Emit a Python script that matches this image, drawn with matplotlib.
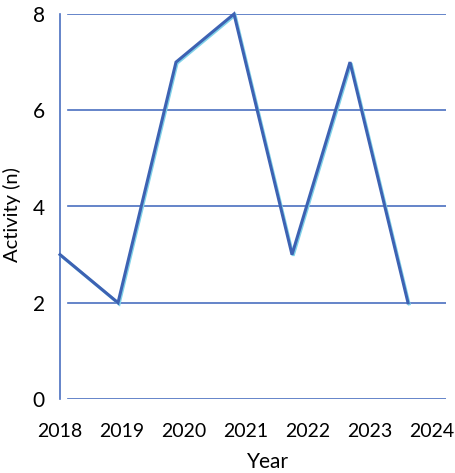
import numpy as np
import matplotlib
matplotlib.use("Agg")
import matplotlib.pyplot as plt
import matplotlib.patheffects as pe

# datos
years = ["2018", "2019", "2020", "2021", "2022", "2023", "2024"]
activity = [3, 2, 7, 8, 3, 7, 2]
yticks = [0, 2, 4, 6, 8]

plt.rcParams["font.family"] = ["Lato", "DejaVu Sans"]

W, H = 455, 473
fig = plt.figure(figsize=(W / 100, H / 100), dpi=100)
# ejes en pixeles: izquierda 60, derecha 446, abajo 399, arriba 14
ax = fig.add_axes([60 / W, 1 - 399 / H, 386 / W, 385 / H])

paso = 58.0  # separación de los puntos en pixeles
x = np.arange(len(activity))
ax.plot(x, activity, color="#3d62b3", lw=2.2, solid_joinstyle="miter", clip_on=False, zorder=3,
        path_effects=[pe.SimpleLineShadow(offset=(0.8, -0.8), shadow_color="#80d2e8", alpha=1.0, rho=1.0),
                      pe.Normal()])

ax.set_xlim(0, 386 / paso)
ax.set_ylim(0, 8)

for v in yticks:
    ax.axhline(v, xmin=8 / 386, xmax=1, color="#4a6fc0", lw=1.2, zorder=1)

# las etiquetas del eje x van un poco más separadas que los puntos
ax.set_xticks(x * 62 / paso)
ax.set_xticklabels(years)
ax.set_yticks(yticks)
ax.tick_params(axis="x", length=0, labelsize=14, colors="black", pad=17)
ax.tick_params(axis="y", length=0, labelsize=15, colors="black", pad=11)

for s in ["top", "right", "bottom"]:
    ax.spines[s].set_visible(False)
ax.spines["left"].set_color("#4a6fc0")
ax.spines["left"].set_linewidth(1.2)

ax.set_xlabel("Year", fontsize=15, labelpad=9)
ax.xaxis.label.set_x(0.54)
ax.set_ylabel("Activity (n)", fontsize=14.5, labelpad=8)
ax.yaxis.label.set_y(0.48)

fig.savefig("out.png", dpi=100)
